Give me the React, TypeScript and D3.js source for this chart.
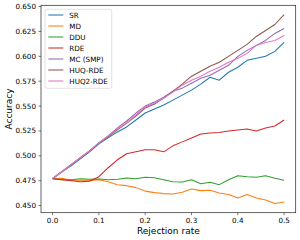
import React from 'react';
import * as d3 from 'd3';

const rejection = [0, 0.02, 0.04, 0.06, 0.08, 0.1, 0.12, 0.14, 0.16, 0.18, 0.2, 0.22, 0.24, 0.26, 0.28, 0.3, 0.32, 0.34, 0.36, 0.38, 0.4, 0.42, 0.44, 0.46, 0.48, 0.5];

const sr = [0.477, 0.484, 0.49, 0.497, 0.504, 0.512, 0.518, 0.524, 0.529, 0.536, 0.543, 0.547, 0.551, 0.556, 0.561, 0.566, 0.572, 0.579, 0.576, 0.584, 0.589, 0.596, 0.598, 0.6, 0.605, 0.614];
const md = [0.477, 0.4775, 0.4755, 0.4755, 0.4753, 0.476, 0.474, 0.471, 0.47, 0.468, 0.4645, 0.463, 0.462, 0.4615, 0.4633, 0.4667, 0.465, 0.4653, 0.4627, 0.461, 0.4576, 0.461, 0.4576, 0.4555, 0.452, 0.4536];
const ddu = [0.477, 0.476, 0.476, 0.477, 0.4765, 0.4767, 0.476, 0.4765, 0.4777, 0.477, 0.4785, 0.478, 0.476, 0.474, 0.4737, 0.476, 0.472, 0.4735, 0.471, 0.476, 0.48, 0.479, 0.4785, 0.48, 0.4775, 0.4755];
const rde = [0.477, 0.476, 0.475, 0.474, 0.4745, 0.479, 0.488, 0.496, 0.502, 0.504, 0.506, 0.506, 0.504, 0.51, 0.514, 0.518, 0.522, 0.523, 0.5235, 0.525, 0.526, 0.527, 0.525, 0.528, 0.53, 0.536];
const mc = [0.477, 0.484, 0.491, 0.498, 0.505, 0.513, 0.52, 0.528, 0.535, 0.543, 0.55, 0.554, 0.559, 0.565, 0.568, 0.573, 0.578, 0.581, 0.586, 0.591, 0.6, 0.606, 0.611, 0.616, 0.623, 0.628];
const huqRde = [0.477, 0.484, 0.491, 0.498, 0.505, 0.513, 0.519, 0.526, 0.533, 0.54, 0.548, 0.552, 0.558, 0.565, 0.572, 0.58, 0.585, 0.59, 0.594, 0.6, 0.606, 0.612, 0.62, 0.626, 0.632, 0.642];
const huq2Rde = [0.477, 0.484, 0.491, 0.498, 0.505, 0.513, 0.52, 0.527, 0.533, 0.541, 0.549, 0.553, 0.558, 0.564, 0.571, 0.576, 0.58, 0.585, 0.589, 0.594, 0.598, 0.603, 0.611, 0.614, 0.616, 0.621];

const seriesNames = ['SR', 'MD', 'DDU', 'RDE', 'MC (SMP)', 'HUQ-RDE', 'HUQ2-RDE'];
const seriesValues = [sr, md, ddu, rde, mc, huqRde, huq2Rde];
const colors = ['#1f77b4', '#ff7f0e', '#2ca02c', '#d62728', '#9467bd', '#8c564b', '#e377c2'];

const xTicks = [0, 0.1, 0.2, 0.3, 0.4, 0.5];
const yTicks = [0.45, 0.475, 0.5, 0.525, 0.55, 0.575, 0.6, 0.625, 0.65];

const W = 300;
const H = 240;
const margin = { top: 5.3, right: 4.3, bottom: 27.3, left: 41 };
const font = 'DejaVu Sans, sans-serif';
const fs = 7.2;
const labelFs = 9;

export default function App() {
  const x = d3.scaleLinear().domain([-0.025, 0.525]).range([margin.left, W - margin.right]);
  const y = d3.scaleLinear().domain([0.4428, 0.6513]).range([H - margin.bottom, margin.top]);
  const line = d3
    .line<number>()
    .x((_, i) => x(rejection[i]))
    .y((d) => y(d));

  const x0 = margin.left;
  const x1 = W - margin.right;
  const y0 = H - margin.bottom;
  const y1 = margin.top;

  return (
    <svg width={W} height={H} style={{ position: 'absolute', left: 0, top: 0, background: '#fff' }} fontFamily={font}>
      <rect x={0} y={0} width={W} height={H} fill="#fff" />
      <g>
        {seriesValues.map((vals, i) => (
          <path key={seriesNames[i]} d={line(vals) || ''} fill="none" stroke={colors[i]} strokeWidth={1.05} strokeLinejoin="round" />
        ))}
      </g>
      <rect x={x0} y={y1} width={x1 - x0} height={y0 - y1} fill="none" stroke="#222" strokeWidth={0.7} />
      {xTicks.map((t) => (
        <g key={'x' + t}>
          <line x1={x(t)} x2={x(t)} y1={y0} y2={y0 + 2.5} stroke="#222" strokeWidth={0.6} />
          <text x={x(t)} y={y0 + 10} textAnchor="middle" fontSize={fs} fill="#000">
            {d3.format('.1f')(t)}
          </text>
        </g>
      ))}
      {yTicks.map((t) => (
        <g key={'y' + t}>
          <line x1={x0 - 2.5} x2={x0} y1={y(t)} y2={y(t)} stroke="#222" strokeWidth={0.6} />
          <text x={x0 - 5} y={y(t)} dy="0.35em" textAnchor="end" fontSize={fs} fill="#000">
            {d3.format('.3f')(t)}
          </text>
        </g>
      ))}
      <text x={(x0 + x1) / 2} y={233.5} textAnchor="middle" fontSize={labelFs} fill="#000">
        Rejection rate
      </text>
      <text transform={`translate(${8.5},${(y0 + y1) / 2}) rotate(-90)`} textAnchor="middle" dy="0.35em" fontSize={labelFs} fill="#000">
        Accuracy
      </text>
      <g>
        <rect x={45} y={9.3} width={66.7} height={79} rx={2} fill="#fff" fillOpacity={0.8} stroke="#ccc" strokeWidth={0.6} />
        {seriesNames.map((n, i) => {
          const ly = 15 + i * 11;
          return (
            <g key={n}>
              <line x1={48.3} x2={63.3} y1={ly} y2={ly} stroke={colors[i]} strokeWidth={1.05} />
              <text x={69.3} y={ly} dy="0.35em" fontSize={fs} fill="#000">
                {n}
              </text>
            </g>
          );
        })}
      </g>
    </svg>
  );
}
